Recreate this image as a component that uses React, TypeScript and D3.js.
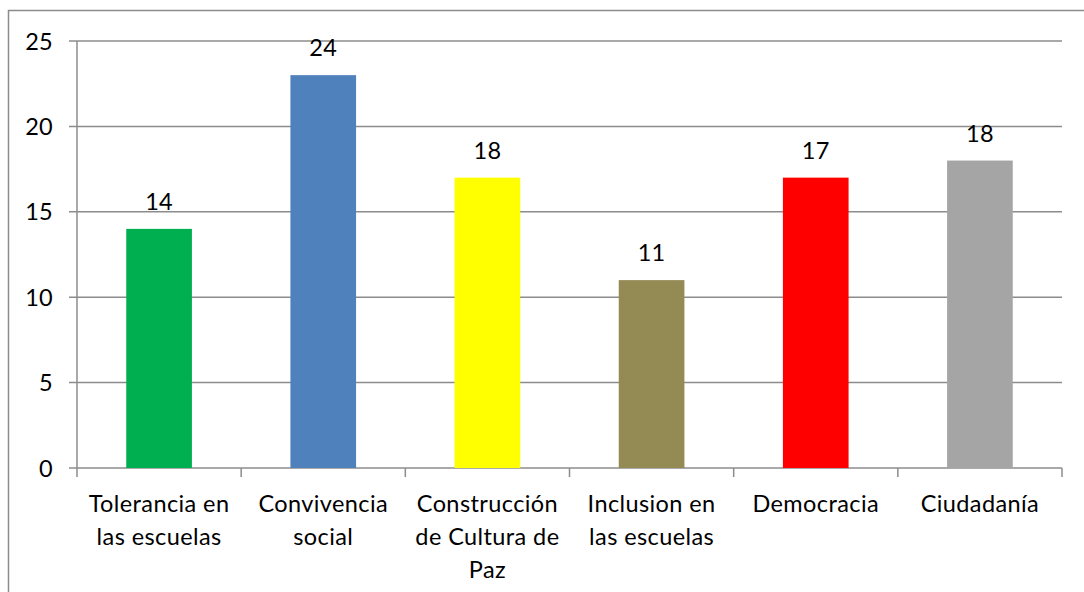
import React from "react";
import * as d3 from "d3";

const categories: string[][] = [
  ["Tolerancia en", "las escuelas"],
  ["Convivencia", "social"],
  ["Construcción", "de Cultura de", "Paz"],
  ["Inclusion en", "las escuelas"],
  ["Democracia"],
  ["Ciudadanía"],
];
const values = [14, 23, 17, 11, 17, 18];
const dataLabels = ["14", "24", "18", "11", "17", "18"];
const colors = ["#00B050", "#4F81BD", "#FFFF00", "#948A54", "#FF0000", "#A5A5A5"];
const yTicks = [0, 5, 10, 15, 20, 25];

const W = 1084;
const H = 592;
const FONT = "Lato, 'Open Sans', sans-serif";

export default function App() {
  const left = 77, right = 1062, top = 41, bottom = 468;
  const y = d3.scaleLinear().domain([0, 25]).range([bottom, top]);
  const idx = categories.map((_, i) => String(i));
  const x = d3.scaleBand<string>().domain(idx).range([left, right]).paddingInner(0.6).paddingOuter(0.3);
  const step = x.step();
  const grid = "#8c8c8c";
  return (
    <svg width={W} height={H} style={{ position: "absolute", left: 0, top: 0, background: "#fff" }}>
      <rect x={8.5} y={10.5} width={1200} height={700} fill="#fff" stroke={grid} strokeWidth={1.5} />
      {yTicks.map((t) => (
        <g key={t}>
          <line x1={69} x2={right} y1={y(t)} y2={y(t)} stroke={grid} strokeWidth={1.5} />
          <text x={53} y={y(t) + 8.5} textAnchor="end" fontFamily={FONT} fontSize={23.5} letterSpacing={0.3} fill="#000">{t}</text>
        </g>
      ))}
      <line x1={left} x2={left} y1={top} y2={bottom + 9} stroke={grid} strokeWidth={1.5} />
      {idx.map((k, i) => (
        <line key={k} x1={left + (i + 1) * step} x2={left + (i + 1) * step} y1={bottom} y2={bottom + 9} stroke={grid} strokeWidth={1.5} />
      ))}
      {values.map((v, i) => (
        <g key={i}>
          <rect x={x(String(i))!} y={y(v)} width={x.bandwidth()} height={y(0) - y(v)} fill={colors[i]} />
          <text x={x(String(i))! + x.bandwidth() / 2} y={y(v) - 19} textAnchor="middle" fontFamily={FONT} fontSize={23.5} letterSpacing={0.3} fill="#000">{dataLabels[i]}</text>
        </g>
      ))}
      {categories.map((lines, i) => (
        <text key={i} textAnchor="middle" fontFamily={FONT} fontSize={23.5} letterSpacing={0.4} fill="#000">
          {lines.map((ln, j) => (
            <tspan key={j} x={x(String(i))! + x.bandwidth() / 2} y={511.5 + j * 33}>{ln}</tspan>
          ))}
        </text>
      ))}
    </svg>
  );
}
